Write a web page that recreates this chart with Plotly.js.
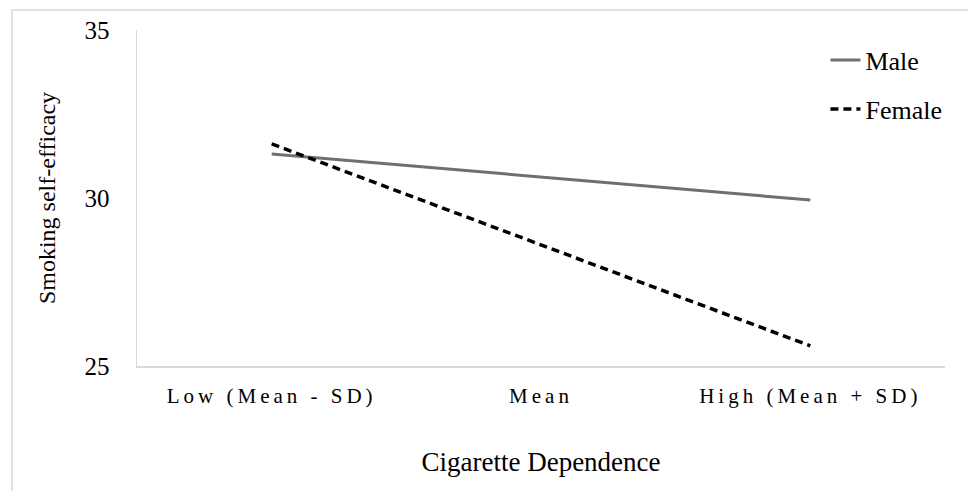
<!DOCTYPE html>
<html>
<head>
<meta charset="utf-8">
<script src="https://cdn.plot.ly/plotly-3.0.1.min.js"></script>
<style>
  html, body { margin: 0; padding: 0; background: #fff; }
  #chart { width: 968px; height: 491px; }
  .xtick text { letter-spacing: 4px; }
</style>
</head>
<body>
<div id="chart"></div>
<script>
const categories = ["Low (Mean - SD)", "Mean", "High (Mean + SD)"];
const maleValues = [31.31, 30.63, 29.94];
const femaleValues = [31.61, 28.6, 25.6];
const seriesNames = ["Male", "Female"];
const yTicks = [25, 30, 35];

const fontFam = "\"Liberation Serif\", \"Times New Roman\", serif";

const traces = [
  {
    x: categories, y: maleValues, name: seriesNames[0], type: "scatter", mode: "lines",
    line: { color: "#6f6f6f", width: 3 }, legendgroup: "m", hoverinfo: "skip"
  },
  {
    x: categories, y: femaleValues, name: seriesNames[1], type: "scatter", mode: "lines",
    line: { color: "#000000", width: 3.5, dash: "8px,5px" }, legendgroup: "f", hoverinfo: "skip"
  }
];

const layout = {
  width: 968, height: 491,
  margin: { l: 137, r: 23, t: 30, b: 125 },
  paper_bgcolor: "#ffffff", plot_bgcolor: "#ffffff",
  font: { family: fontFam, color: "#000000" },
  showlegend: true,
  legend: {
    x: 0.852, y: 0.98, xanchor: "left", yanchor: "top",
    font: { family: fontFam, size: 26, color: "#000" },
    tracegroupgap: 12, bgcolor: "rgba(0,0,0,0)"
  },
  xaxis: {
    type: "category", range: [-0.5, 2.5],
    showline: true, linecolor: "#d9d9d9", linewidth: 1.5,
    showgrid: false, zeroline: false, ticks: "",
    ticklabelstandoff: 10,
    tickfont: { family: fontFam, size: 21, color: "#000" },
    title: { text: "Cigarette Dependence", font: { family: fontFam, size: 27, color: "#000" }, standoff: 45 }
  },
  yaxis: {
    range: [25, 35], tickvals: yTicks, ticktext: yTicks.map(String),
    showline: true, linecolor: "#d9d9d9", linewidth: 1.5,
    showgrid: false, zeroline: false, ticks: "",
    ticklabelstandoff: 21,
    tickfont: { family: fontFam, size: 25, color: "#000" },
    title: { text: "Smoking self-efficacy", font: { family: fontFam, size: 24, color: "#000" }, standoff: 22 }
  },
  shapes: [
    {
      type: "rect", xref: "paper", yref: "paper",
      x0: -0.1547, x1: 1.04, y0: -0.42, y1: 1.0595,
      line: { color: "#d9d9d9", width: 1.5 }, fillcolor: "rgba(0,0,0,0)", layer: "below"
    }
  ]
};

Plotly.newPlot("chart", traces, layout, { staticPlot: true, displayModeBar: false });
</script>
</body>
</html>
